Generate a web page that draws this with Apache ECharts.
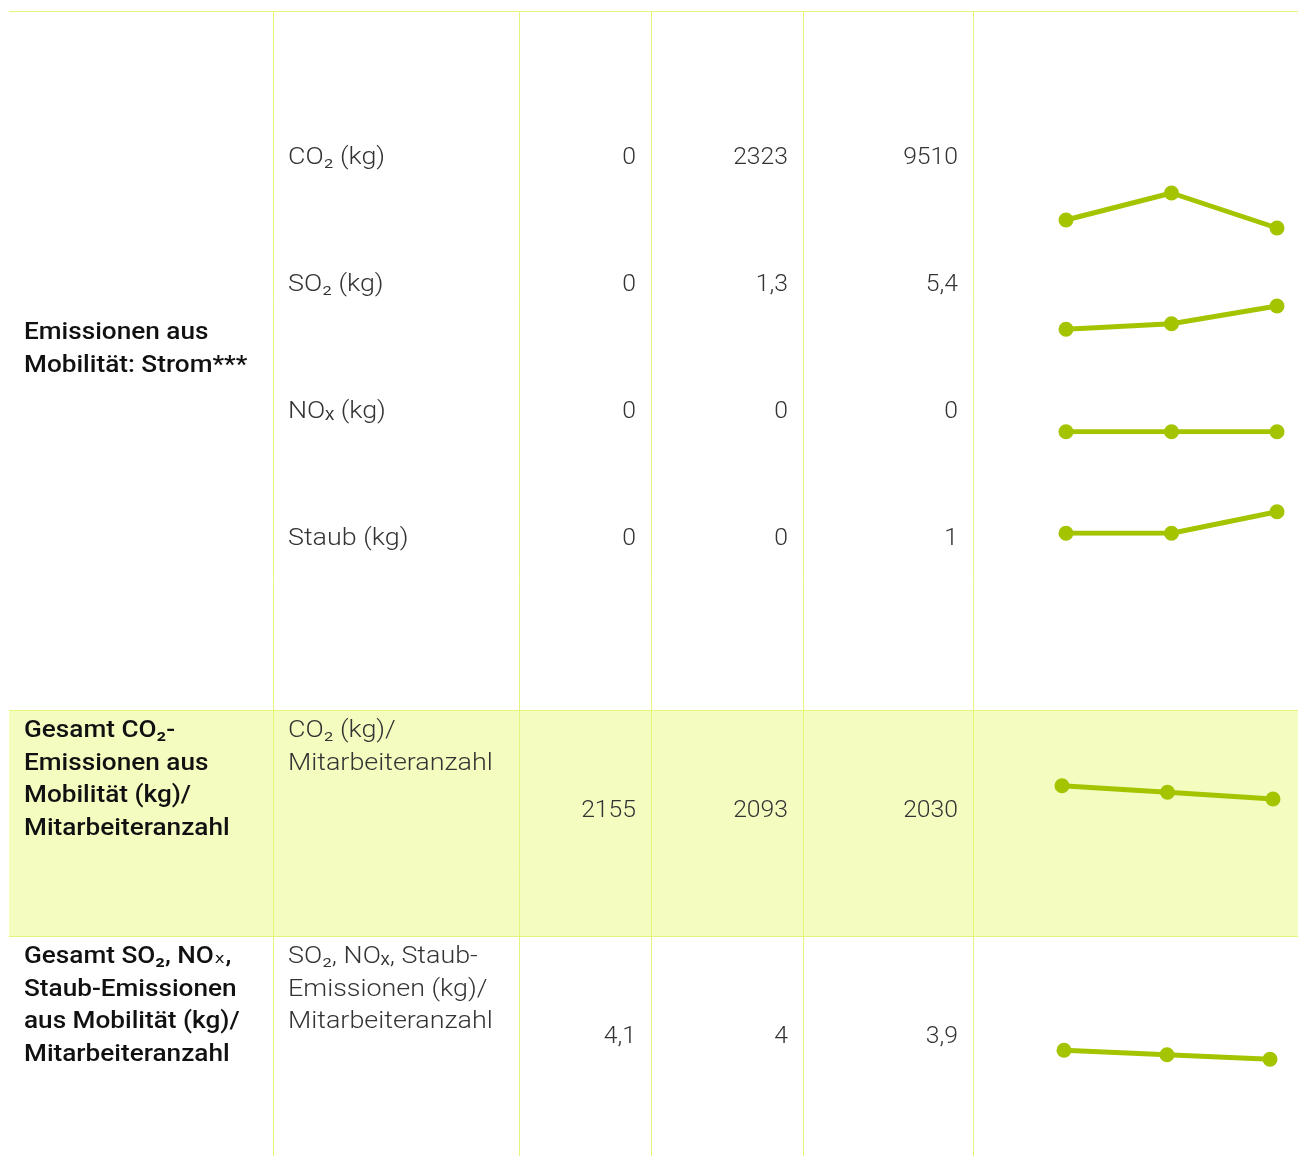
<!DOCTYPE html>
<html>
<head>
<meta charset="utf-8">
<script src="https://cdn.jsdelivr.net/npm/echarts@6/dist/echarts.min.js"></script>
<style>
html,body{margin:0;padding:0;background:#fff;}
#chart{width:1298px;height:1156px;}
</style>
</head>
<body>
<div id="chart"></div>
<script>
// ---- data ----
const groupLabels = [
  "Emissionen aus\nMobilität: Strom***",
  "Gesamt CO₂-\nEmissionen aus\nMobilität (kg)/\nMitarbeiteranzahl",
  "Gesamt SO₂, NOₓ,\nStaub-Emissionen\naus Mobilität (kg)/\nMitarbeiteranzahl"
];
const unitLabels = [
  "CO₂ (kg)", "SO₂ (kg)", "NOₓ (kg)", "Staub (kg)",
  "CO₂ (kg)/\nMitarbeiteranzahl",
  "SO₂, NOₓ, Staub-\nEmissionen (kg)/\nMitarbeiteranzahl"
];
const valuesCol1 = ["0", "0", "0", "0", "2155", "4,1"];
const valuesCol2 = ["2323", "1,3", "0", "0", "2093", "4"];
const valuesCol3 = ["9510", "5,4", "0", "1", "2030", "3,9"];
const sparkCategories = ["1", "2", "3"];
const sparkCO2 = [5.0, 7.7, 4.2];
const sparkSO2 = [0, 1.3, 5.4];
const sparkNOx = [0, 0, 0];
const sparkStaub = [0, 0, 1];
const sparkCO2PerEmp = [2155, 2093, 2030];
const sparkOtherPerEmp = [4.1, 4, 3.9];
const sparkSeries = [sparkCO2, sparkSO2, sparkNOx, sparkStaub, sparkCO2PerEmp, sparkOtherPerEmp];

// ---- layout / style ----
const GREEN = '#a5c400';
const LINE = '#e6f47c';
const FONT = 'Roboto, "DejaVu Sans", sans-serif';
const colX = [273, 519, 651, 803, 973];
const rowCenters = [158, 285, 412, 539, 811, 1037];
const unitTops = [142, 269, 396, 523, 715, 941];
const groupTops = [317, 715, 941];
const valueRight = [636, 788, 958];
const sparkLayout = [
  {left: 1066, width: 211, top: 170, height: 100, min: 0, max: 10},
  {left: 1066, width: 211, top: 286.2, height: 43.1, min: 0, max: 10},
  {left: 1066, width: 211, top: 391.7, height: 40, min: 0, max: 1},
  {left: 1066, width: 211, top: 490.1, height: 43.2, min: 0, max: 2},
  {left: 1062, width: 211, top: 759.6, height: 42.6, min: 2000, max: 2400},
  {left: 1064, width: 206, top: 1032.3, height: 45, min: 3.5, max: 4.5}
];

const graphics = [];
graphics.push({type: 'rect', shape: {x: 9, y: 710, width: 1289, height: 226}, style: {fill: '#f4fcc0'}, z: 0});
[11.5, 710.5, 936.5].forEach(y => graphics.push({type: 'line', shape: {x1: 9, y1: y, x2: 1298, y2: y}, style: {stroke: LINE, lineWidth: 1}, z: 1}));
colX.forEach(x => graphics.push({type: 'line', shape: {x1: x + 0.5, y1: 11, x2: x + 0.5, y2: 1156}, style: {stroke: LINE, lineWidth: 1}, z: 1}));

groupLabels.forEach((t, i) => graphics.push({
  type: 'text', z: 2, x: 24, y: groupTops[i], scaleX: 1.09,
  style: {text: t, x: 0, y: 0, fill: '#111', fontSize: 24, fontWeight: 500, fontFamily: FONT, lineHeight: 32.5, verticalAlign: 'top', align: 'left'}
}));
unitLabels.forEach((t, i) => graphics.push({
  type: 'text', z: 2, x: 288, y: unitTops[i], scaleX: 1.12,
  style: {text: t, x: 0, y: 0, fill: '#333', fontSize: 24, fontWeight: 300, fontFamily: FONT, lineHeight: 32.5, verticalAlign: 'top', align: 'left'}
}));
[valuesCol1, valuesCol2, valuesCol3].forEach((col, c) => col.forEach((v, i) => graphics.push({
  type: 'text', z: 2, x: valueRight[c], y: rowCenters[i], scaleX: 1.03,
  style: {text: v, x: 0, y: 0, fill: '#333', fontSize: 24, fontWeight: 300, fontFamily: FONT, verticalAlign: 'middle', align: 'right'}
})));

const grids = [], xAxes = [], yAxes = [], series = [];
sparkLayout.forEach((l, i) => {
  grids.push({left: l.left, top: l.top, width: l.width, height: l.height, containLabel: false});
  xAxes.push({type: 'category', gridIndex: i, data: sparkCategories, boundaryGap: false, show: false});
  yAxes.push({type: 'value', gridIndex: i, min: l.min, max: l.max, show: false});
  series.push({
    type: 'line', xAxisIndex: i, yAxisIndex: i, data: sparkSeries[i],
    symbol: 'circle', symbolSize: 15, showSymbol: true,
    lineStyle: {color: GREEN, width: 5}, itemStyle: {color: GREEN},
    silent: true, animation: false, z: 5
  });
});

const chart = echarts.init(document.getElementById('chart'), null, {renderer: 'canvas'});
chart.setOption({
  animation: false,
  grid: grids, xAxis: xAxes, yAxis: yAxes, series: series,
  graphic: graphics
});
</script>
</body>
</html>
